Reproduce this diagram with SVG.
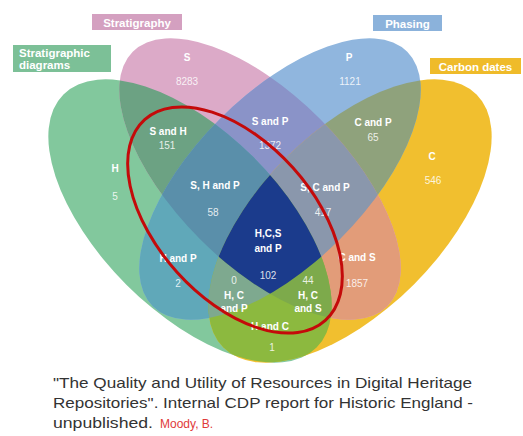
<svg xmlns="http://www.w3.org/2000/svg" width="523" height="436" viewBox="0 0 523 436">
  <style>
    .lbl { font-family: "Liberation Sans", Arial, sans-serif; font-size: 10px; font-weight: bold; fill: #ffffff; text-anchor: middle; }
    .num { font-family: "Liberation Sans", Arial, sans-serif; font-size: 10px; fill: #ffffff; fill-opacity: 0.85; text-anchor: middle; }
    .hdr { font-family: "Liberation Sans", Arial, sans-serif; font-size: 11.5px; font-weight: bold; fill: #ffffff; }
    .cap { font-family: "Liberation Sans", Arial, sans-serif; font-size: 15px; fill: #333333; }
  </style>
  <defs>
    <ellipse id="eH" cx="190" cy="221" rx="179" ry="90" transform="rotate(45 190 221)"/>
    <ellipse id="eS" cx="260" cy="179" rx="180" ry="85" transform="rotate(45 260 179)"/>
    <ellipse id="eP" cx="280" cy="179" rx="180" ry="85" transform="rotate(-45 280 179)"/>
    <ellipse id="eC" cx="350" cy="221" rx="179" ry="90" transform="rotate(-45 350 221)"/>
    <clipPath id="cH"><ellipse cx="190" cy="221" rx="179" ry="90" transform="rotate(45 190 221)"/></clipPath>
    <clipPath id="cS"><ellipse cx="260" cy="179" rx="180" ry="85" transform="rotate(45 260 179)"/></clipPath>
    <clipPath id="cP"><ellipse cx="280" cy="179" rx="180" ry="85" transform="rotate(-45 280 179)"/></clipPath>
    <clipPath id="cC"><ellipse cx="350" cy="221" rx="179" ry="90" transform="rotate(-45 350 221)"/></clipPath>
  </defs>
  <rect width="523" height="436" fill="#ffffff"/>

  <!-- single sets -->
  <g id="set-H"><use href="#eH" fill="#82c89d"/></g>
  <g id="set-C"><use href="#eC" fill="#f1bf2f"/></g>
  <g id="set-S"><use href="#eS" fill="#dcaac8"/></g>
  <g id="set-P"><use href="#eP" fill="#90b6de"/></g>

  <!-- pairwise intersections -->
  <g id="S-H" clip-path="url(#cS)"><use href="#eH" fill="#6ca283"/></g>
  <g id="S-P" clip-path="url(#cS)"><use href="#eP" fill="#8a93c8"/></g>
  <g id="C-P" clip-path="url(#cC)"><use href="#eP" fill="#8fa27c"/></g>
  <g id="H-P" clip-path="url(#cH)"><use href="#eP" fill="#60a8b9"/></g>
  <g id="C-S" clip-path="url(#cC)"><use href="#eS" fill="#e29c79"/></g>
  <g id="H-C" clip-path="url(#cH)"><use href="#eC" fill="#8cb93f"/></g>

  <!-- triple intersections -->
  <g id="S-H-P" clip-path="url(#cS)"><g clip-path="url(#cH)"><use href="#eP" fill="#5a8faa"/></g></g>
  <g id="S-C-P" clip-path="url(#cS)"><g clip-path="url(#cC)"><use href="#eP" fill="#8a97ac"/></g></g>
  <g id="H-C-P" clip-path="url(#cH)"><g clip-path="url(#cC)"><use href="#eP" fill="#7ea98f"/></g></g>
  <g id="H-C-S" clip-path="url(#cH)"><g clip-path="url(#cC)"><use href="#eS" fill="#7daa4b"/></g></g>

  <!-- all four -->
  <g id="H-C-S-P" clip-path="url(#cH)"><g clip-path="url(#cC)"><g clip-path="url(#cS)"><use href="#eP" fill="#1b3b8c"/></g></g></g>

  <!-- region labels -->
  <g id="labels">
    <text class="lbl" x="115" y="172">H</text><text class="num" x="115" y="200">5</text>
    <text class="lbl" x="187" y="61">S</text><text class="num" x="187" y="85">8283</text>
    <text class="lbl" x="349" y="61">P</text><text class="num" x="350" y="85">1121</text>
    <text class="lbl" x="432" y="160">C</text><text class="num" x="433" y="184">546</text>
    <text class="lbl" x="168" y="135">S and H</text><text class="num" x="167" y="149">151</text>
    <text class="lbl" x="270" y="125">S and P</text><text class="num" x="270" y="149">1372</text>
    <text class="lbl" x="373" y="126">C and P</text><text class="num" x="373" y="141">65</text>
    <text class="lbl" x="215" y="189">S, H and P</text><text class="num" x="213" y="216">58</text>
    <text class="lbl" x="325" y="191">S, C and P</text><text class="num" x="323" y="216">417</text>
    <text class="lbl" x="268" y="237">H,C,S</text><text class="lbl" x="268" y="252">and P</text><text class="num" x="268" y="279">102</text>
    <text class="lbl" x="178" y="262">H and P</text><text class="num" x="178" y="287">2</text>
    <text class="lbl" x="357" y="261">C and S</text><text class="num" x="357" y="287">1857</text>
    <text class="num" x="234" y="284">0</text><text class="lbl" x="234" y="299">H, C</text><text class="lbl" x="234" y="312">and P</text>
    <text class="num" x="308" y="284">44</text><text class="lbl" x="308" y="299">H, C</text><text class="lbl" x="308" y="312">and S</text>
    <text class="lbl" x="270" y="330">H and C</text><text class="num" x="272" y="351">1</text>
  </g>

  <!-- highlight ellipse -->
  <g id="highlight">
    <ellipse cx="235" cy="220" rx="135" ry="78" transform="rotate(48 235 220)" fill="none" stroke="#c40a0a" stroke-width="3"/>
  </g>

  <!-- set headers -->
  <g id="hdr-S"><rect x="92" y="14" width="90" height="16" fill="#d4a0c0"/><text class="hdr" x="137" y="26.5" text-anchor="middle">Stratigraphy</text></g>
  <g id="hdr-H"><rect x="13" y="45" width="98" height="27" fill="#7cc097"/><text class="hdr" x="19" y="57">Stratigraphic</text><text class="hdr" x="19" y="69">diagrams</text></g>
  <g id="hdr-P"><rect x="373" y="15" width="69" height="16" fill="#8bb2db"/><text class="hdr" x="407.5" y="27.5" text-anchor="middle">Phasing</text></g>
  <g id="hdr-C"><rect x="430" y="58" width="91" height="16" fill="#efbb2a"/><text class="hdr" x="475.5" y="70.5" text-anchor="middle">Carbon dates</text></g>

  <!-- caption -->
  <g id="caption">
    <text class="cap" x="53" y="388" textLength="419" lengthAdjust="spacingAndGlyphs">"The Quality and Utility of Resources in Digital Heritage</text>
    <text class="cap" x="53" y="408" textLength="420" lengthAdjust="spacingAndGlyphs">Repositories". Internal CDP report for Historic England -</text>
    <text class="cap" x="53" y="428" textLength="100" lengthAdjust="spacingAndGlyphs">unpublished.</text>
    <text class="cap" x="160" y="428" style="fill:#e03a3a;font-size:12px">Moody, B.</text>
  </g>
</svg>
